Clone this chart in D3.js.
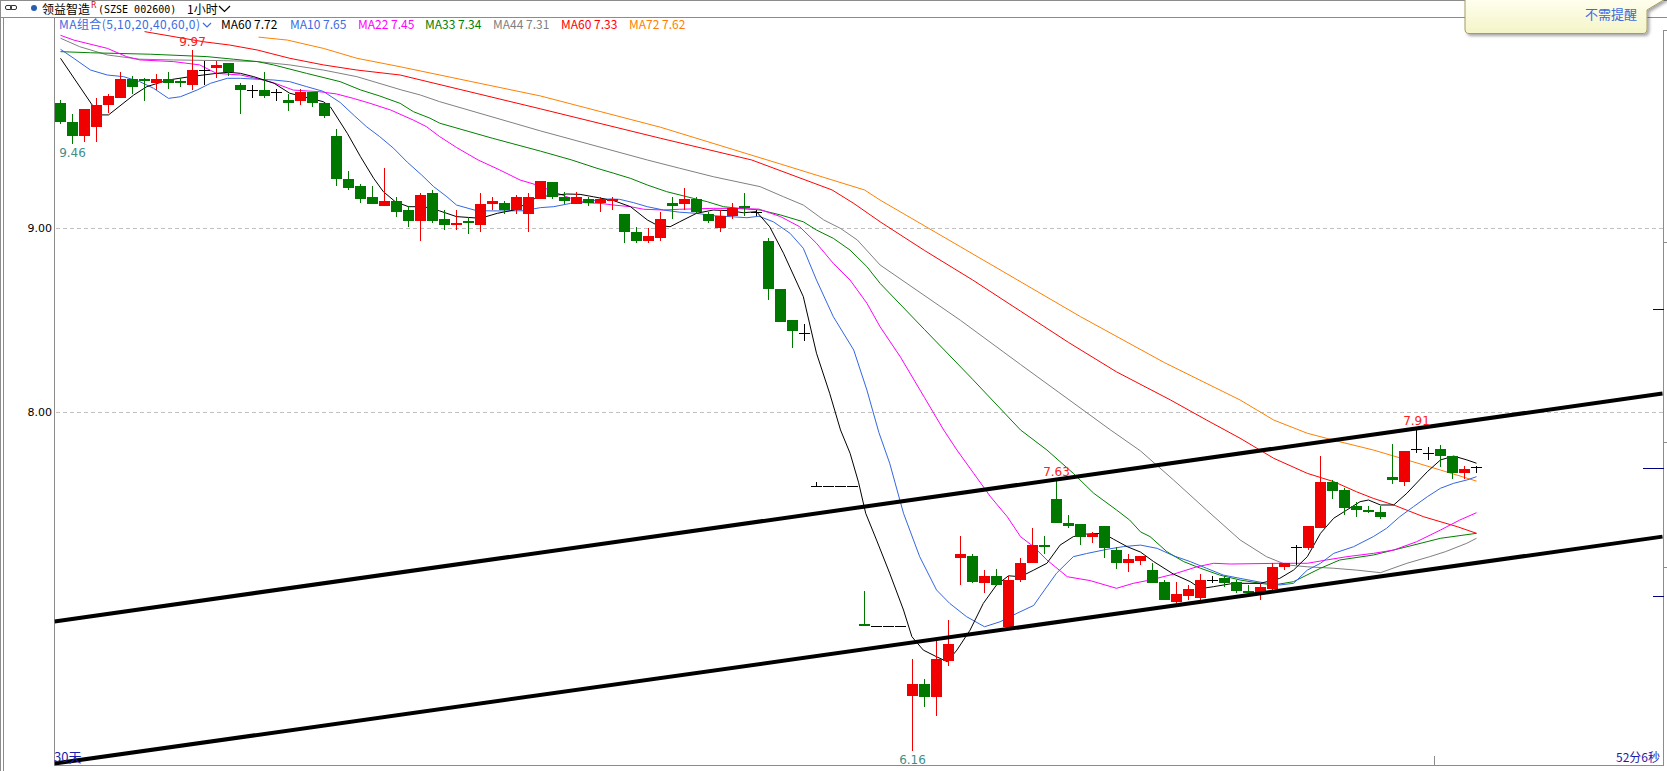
<!DOCTYPE html>
<html><head><meta charset="utf-8">
<script src="https://cdn.jsdelivr.net/npm/d3@7"></script>
<style>
body{margin:0;background:#fff;overflow:hidden}
svg{display:block}
</style></head>
<body><svg id="c" width="1667" height="771"></svg>
<script>
// ---------------- data ----------------
const openP  = [9.68,9.58,9.50,9.55,9.67,9.71,9.81,9.81,9.79,9.81,9.80,9.78,9.86,9.87,9.90,9.78,9.75,9.75,9.74,9.70,
  9.69,9.74,9.68,9.50,9.27,9.23,9.17,9.12,9.15,9.10,9.04,9.19,9.05,9.02,9.04,9.02,9.13,9.14,9.10,9.08,
  9.16,9.25,9.17,9.13,9.16,9.14,9.15,9.08,8.98,8.93,8.95,9.14,9.13,9.16,9.08,9.00,9.07,9.12,9.09,8.93,
  8.67,8.50,8.43,7.60,7.60,7.60,7.60,6.85,6.84,6.84,6.84,6.46,6.52,6.45,6.65,7.21,7.22,7.07,7.11,6.83,
  7.09,7.18,7.28,7.53,7.40,7.39,7.32,7.38,7.25,7.18,7.19,7.14,7.08,6.97,7.00,6.99,7.09,7.10,7.08,7.03,
  7.01,7.04,7.16,7.27,7.26,7.37,7.62,7.58,7.49,7.47,7.46,7.65,7.62,7.80,7.78,7.80,7.76,7.67,7.70];
const highP  = [9.70,9.62,9.65,9.71,9.73,9.85,9.83,9.82,9.84,9.85,9.82,9.97,9.91,9.91,9.90,9.79,9.78,9.85,9.76,9.73,
  9.76,9.74,9.68,9.54,9.31,9.24,9.23,9.33,9.17,9.12,9.19,9.21,9.10,9.10,9.06,9.19,9.17,9.15,9.18,9.19,
  9.26,9.25,9.20,9.20,9.17,9.17,9.17,9.08,9.01,9.00,9.09,9.17,9.22,9.17,9.09,9.10,9.14,9.19,9.10,8.95,
  8.67,8.50,8.48,7.62,7.60,7.60,7.60,7.03,6.84,6.84,6.84,6.66,6.55,6.76,6.87,7.33,7.23,7.14,7.15,7.11,
  7.21,7.37,7.33,7.63,7.44,7.39,7.35,7.38,7.27,7.23,7.22,7.18,7.09,7.08,7.06,7.12,7.11,7.11,7.09,7.06,
  7.07,7.18,7.18,7.28,7.38,7.76,7.63,7.59,7.51,7.49,7.49,7.83,7.79,7.91,7.81,7.82,7.76,7.71,7.71];
const lowP   = [9.57,9.46,9.47,9.47,9.63,9.71,9.73,9.69,9.75,9.76,9.77,9.75,9.78,9.82,9.83,9.62,9.71,9.71,9.69,9.64,
  9.67,9.66,9.60,9.23,9.21,9.14,9.13,9.12,9.06,9.01,8.93,9.03,8.99,8.99,8.97,8.98,9.10,9.08,9.08,8.98,
  9.16,9.16,9.13,9.13,9.12,9.09,9.10,8.92,8.92,8.92,8.93,9.05,9.10,9.08,9.03,8.98,9.05,9.07,9.07,8.61,
  8.49,8.35,8.39,7.60,7.60,7.60,7.60,6.84,6.84,6.84,6.84,6.16,6.40,6.35,6.62,7.06,7.07,7.02,7.06,6.83,
  7.08,7.18,7.23,7.40,7.37,7.28,7.29,7.21,7.15,7.13,7.17,7.07,6.98,6.96,6.98,6.97,7.07,7.05,7.02,7.01,
  6.98,7.03,7.14,7.17,7.25,7.37,7.53,7.44,7.43,7.45,7.42,7.61,7.60,7.78,7.74,7.70,7.64,7.64,7.67];
const closeP = [9.58,9.50,9.65,9.67,9.72,9.81,9.77,9.80,9.81,9.79,9.79,9.86,9.86,9.89,9.85,9.75,9.75,9.72,9.74,9.68,
  9.74,9.68,9.61,9.27,9.22,9.16,9.13,9.15,9.09,9.04,9.18,9.04,9.02,9.03,9.03,9.13,9.15,9.10,9.17,9.17,
  9.26,9.17,9.15,9.17,9.14,9.16,9.16,8.98,8.93,8.96,9.05,9.12,9.16,9.09,9.04,9.07,9.11,9.11,9.09,8.67,
  8.49,8.44,8.43,7.60,7.60,7.60,7.60,6.84,6.84,6.84,6.84,6.52,6.45,6.66,6.74,7.23,7.08,7.11,7.06,7.09,
  7.18,7.28,7.27,7.40,7.38,7.32,7.34,7.26,7.18,7.20,7.22,7.07,6.98,7.01,7.04,7.09,7.09,7.07,7.03,7.02,
  7.05,7.16,7.18,7.27,7.38,7.62,7.57,7.48,7.47,7.46,7.43,7.63,7.79,7.80,7.78,7.76,7.67,7.69,7.70];

// moving-average lines, [candle index, price]
const ma5 = [[0,9.925],[3.2,9.617],[4,9.617],[6.1,9.725],[7.2,9.771],[9,9.807],[10.8,9.825],[13,9.843],[14,9.849],[15,9.843],
  [16.1,9.825],[17.8,9.789],[19.1,9.735],[21.9,9.689],[22.5,9.66],[23.9,9.517],[25,9.39],[26.1,9.272],[26.9,9.2],[27.9,9.145],
  [29,9.118],[30.3,9.118],[31.6,9.095],[33,9.064],[35,9.055],[36.4,9.082],[37.8,9.10],[38.6,9.127],[39.7,9.169],[40.5,9.176],
  [42.2,9.187],[43.3,9.185],[44.4,9.172],[46.1,9.151],[47.5,9.118],[48.9,9.046],[49.7,9.018],[50.8,9.009],[51.6,9.036],[53,9.082],
  [54.4,9.10],[55.8,9.096],[56.9,9.085],[58,9.091],[59.1,9.009],[60.25,8.865],[61.9,8.629],[63,8.321],[64.1,8.103],[65,7.904],
  [65.8,7.777],[66.5,7.62],[67.1,7.451],[68,7.306],[69.1,7.125],[70.25,6.925],[70.95,6.78],[71.9,6.707],[73,6.671],[73.9,6.644],
  [74.7,6.707],[75.8,6.816],[76.9,6.961],[78,7.061],[79,7.111],[80,7.106],[81.1,7.142],[82.2,7.179],[83.3,7.278],[84.4,7.324],
  [85.5,7.338],[86.9,7.342],[87.75,7.31],[88.9,7.269],[90,7.24],[91.1,7.188],[92.75,7.12],[94.15,7.079],[95,7.041],[96.1,7.052],
  [97.75,7.07],[100,7.07],[101.6,7.097],[102.75,7.142],[103.9,7.215],[105,7.342],[106.1,7.424],[107.2,7.469],[108.3,7.514],[109,7.523],
  [110,7.496],[111.1,7.496],[112.2,7.56],[113.9,7.677],[115,7.741],[116.1,7.762],[117.2,7.741],[118,7.723]];
const ma10 = [[0,9.974],[1.1,9.925],[2.5,9.861],[3.9,9.834],[5.25,9.825],[6.6,9.798],[7.75,9.762],[9,9.707],[10,9.716],[11.4,9.753],
  [12.5,9.789],[13.9,9.816],[15,9.816],[16.4,9.811],[17.75,9.807],[19.1,9.798],[20.5,9.771],[21.9,9.745],[23.3,9.685],[24.5,9.612],
  [25.5,9.553],[26.6,9.499],[27.75,9.436],[28.9,9.36],[30.1,9.29],[31.1,9.227],[32.2,9.172],[33,9.127],[34.7,9.096],[36.4,9.095],
  [38.6,9.096],[40,9.113],[41.1,9.118],[42.5,9.136],[43.6,9.145],[44.7,9.154],[45.8,9.16],[46.6,9.158],[47.75,9.14],[48.9,9.118],
  [50.25,9.10],[51.6,9.088],[53,9.082],[54.4,9.069],[55.8,9.064],[57.2,9.058],[58.2,9.066],[59.4,9.036],[60.8,8.973],[61.9,8.892],
  [63,8.719],[64.4,8.52],[66.1,8.339],[67.2,8.121],[68.2,7.89],[69.1,7.723],[70.25,7.451],[71.6,7.215],[73,7.034],[74.1,6.961],
  [75.5,6.889],[77,6.834],[78.3,6.861],[79.7,6.907],[81.1,6.95],[81.6,6.997],[83,7.125],[84.4,7.215],[85.5,7.232],[87.2,7.255],
  [88.6,7.27],[90,7.278],[91.4,7.26],[92.75,7.22],[94.15,7.188],[95.5,7.152],[96.9,7.115],[98.3,7.097],[100.5,7.07],[101.6,7.061],
  [102.75,7.07],[103.9,7.142],[105,7.179],[106.1,7.233],[107.75,7.269],[109.4,7.324],[110.5,7.369],[111.6,7.432],[112.75,7.487],[113.9,7.541],
  [115,7.587],[116.1,7.614],[117.2,7.632],[118,7.65]];
const ma22 = [[0,10.05],[1.1,10.024],[3.9,9.979],[5.5,9.934],[6.6,9.916],[9.4,9.907],[11.6,9.889],[13,9.843],[15,9.834],[16.6,9.811],
  [17.75,9.792],[19.4,9.752],[21.6,9.743],[23,9.731],[24.4,9.707],[25.8,9.68],[27.5,9.644],[29.4,9.589],[30.5,9.553],[31.6,9.499],
  [33,9.44],[34.8,9.372],[36.6,9.318],[38.3,9.263],[39.7,9.236],[41.1,9.2],[42.5,9.164],[43.6,9.14],[45,9.136],[46.1,9.127],
  [47.5,9.118],[48.6,9.104],[50.25,9.1],[51.6,9.104],[54.4,9.109],[55.8,9.109],[58.2,9.105],[60,9.064],[61.6,9.009],[63,8.919],
  [64.4,8.81],[65.8,8.719],[67.2,8.593],[68.3,8.465],[70,8.30],[72,8.08],[73.6,7.904],[74.7,7.795],[76.1,7.668],[77.5,7.541],
  [78.9,7.432],[80,7.324],[81.1,7.269],[82.2,7.197],[83.9,7.106],[85.8,7.085],[88,7.043],[89.4,7.07],[90.8,7.088],[92.75,7.12],
  [94.7,7.16],[96.1,7.179],[97.5,7.175],[101.6,7.179],[103.9,7.179],[105.5,7.197],[107.2,7.215],[109.4,7.233],[111.1,7.251],[113,7.296],
  [115,7.36],[116.6,7.414],[118,7.454]];
const ma33 = [[0,9.961],[2.5,9.955],[7.5,9.947],[12.2,9.934],[14.4,9.92],[16.4,9.907],[17.75,9.889],[20.5,9.843],[23.3,9.798],[25,9.753],
  [26.6,9.72],[28.3,9.68],[29.4,9.635],[30.8,9.599],[31.6,9.572],[36,9.49],[40,9.42],[42.6,9.372],[44.7,9.327],[46.1,9.3],
  [47.5,9.272],[48.9,9.236],[50.5,9.2],[52.2,9.172],[53.9,9.145],[55.25,9.118],[56.6,9.109],[58.3,9.1],[60,9.073],[61.9,9.036],
  [63,8.991],[64.4,8.946],[65.8,8.882],[67.2,8.792],[68.3,8.701],[72,8.45],[76,8.18],[80,7.904],[82.2,7.795],[84.4,7.668],
  [86.1,7.56],[88,7.469],[89.1,7.414],[90,7.35],[90.8,7.324],[92.2,7.242],[93.6,7.188],[95,7.152],[96.6,7.115],[98.3,7.088],
  [100,7.07],[101.1,7.061],[102.75,7.079],[105,7.152],[106.6,7.197],[109.4,7.224],[112.2,7.269],[115,7.315],[118,7.342]];
const ma44 = [[0,10.034],[1.6,9.988],[3.9,9.943],[6.6,9.92],[9.4,9.916],[13.6,9.912],[16.4,9.907],[19.1,9.889],[21.9,9.861],[24.7,9.825],
  [28.4,9.753],[30,9.725],[31.6,9.689],[40,9.53],[48.9,9.372],[51.6,9.327],[54.4,9.281],[58.3,9.227],[60.25,9.172],[61.9,9.127],
  [63.6,9.046],[65,9.0],[66.4,8.937],[68.3,8.801],[75,8.5],[80,8.26],[87.5,7.904],[90,7.79],[92.75,7.632],[95.5,7.469],
  [98.3,7.306],[100.5,7.215],[102.2,7.17],[103.9,7.16],[106.1,7.152],[108,7.142],[110,7.128],[112.2,7.179],[114.1,7.215],[115.4,7.242],
  [117.2,7.288],[118,7.315]];
const ma60 = [[7,10.07],[11.9,10.015],[14.1,9.997],[16.4,9.97],[19.1,9.925],[21.9,9.889],[24.7,9.861],[28.3,9.834],[40,9.65],[50,9.49],
  [57.6,9.372],[64.3,9.209],[66.1,9.136],[68.3,9.036],[72,8.88],[76,8.72],[80,8.55],[84,8.38],[88,8.22],[92.5,8.067],
  [95.5,7.958],[98.3,7.859],[101.1,7.75],[103.9,7.668],[106.1,7.623],[108,7.568],[109.4,7.532],[111.1,7.496],[113.6,7.432],[116.4,7.378],[118,7.342]];
const ma72 = [[16.5,10.04],[18.9,10.024],[21.9,9.979],[24.7,9.925],[28.3,9.879],[40,9.72],[50,9.55],[60,9.35],[67,9.209],[68.3,9.154],
  [75,8.9],[85,8.52],[92,8.27],[98.3,8.067],[101.1,7.958],[103.9,7.886],[106.6,7.84],[109.4,7.795],[112.2,7.741],[115,7.686],[118,7.626]];

// drawn channel lines: [candle index, price] at the two plot edges
const upperChannel = [[-0.5,6.863],[133.5,8.102]];
const lowerChannel = [[-0.5,6.090],[133.5,7.324]];

const priceTicks = [8, 9];
const legendItems = [
  {t:"MA组合(5,10,20,40,60,0)", c:"#3d6be0", x:59, w:141},
  {t:"MA60 7.72", c:"#000000", x:221},
  {t:"MA10 7.65", c:"#3d6be0", x:290},
  {t:"MA22 7.45", c:"#ff00ff", x:358},
  {t:"MA33 7.34", c:"#008000", x:425},
  {t:"MA44 7.31", c:"#808080", x:493},
  {t:"MA60 7.33", c:"#ff0000", x:561},
  {t:"MA72 7.62", c:"#ff8000", x:629}
];
const maSeries = [
  {d:ma72,c:"#ff8000"},{d:ma60,c:"#ff0000"},{d:ma44,c:"#808080"},{d:ma33,c:"#008000"},
  {d:ma22,c:"#ff00ff"},{d:ma10,c:"#3366e0"},{d:ma5,c:"#000000"}
];
const highMarks = [{i:11,t:"9.97"},{i:83,t:"7.63"},{i:113,t:"7.91"}];
const lowMarks  = [{i:1,t:"9.46"},{i:71,t:"6.16"}];

// ---------------- drawing ----------------
const svg = d3.select("#c");
const P = {left:54.5, right:1663.5, top:17.5, bottom:765.5};
const x = d3.scaleLinear().domain([0,118]).range([60.5,1476.5]);
const y = d3.scaleLinear().domain([6.16,9.97]).range([750.7,50]);
const px = v => Math.round(v)+0.5;

const defs = svg.append("defs");
defs.append("clipPath").attr("id","plotclip").append("rect")
  .attr("x",P.left).attr("y",P.top).attr("width",P.right-P.left).attr("height",P.bottom-P.top);
const grad = defs.append("linearGradient").attr("id","tipg").attr("x1",0).attr("y1",0).attr("x2",0).attr("y2",1);
grad.append("stop").attr("offset","0%").attr("stop-color","#fffff0");
grad.append("stop").attr("offset","100%").attr("stop-color","#f4f4c8");
const sh = defs.append("filter").attr("id","shadow").attr("x","-10%").attr("y","-30%").attr("width","130%").attr("height","180%");
sh.append("feDropShadow").attr("dx",2).attr("dy",2).attr("stdDeviation",1.5).attr("flood-color","#000").attr("flood-opacity",0.35);

// frame lines
const frame = svg.append("g").attr("stroke","#8c8c8c").attr("fill","none").attr("shape-rendering","crispEdges");
frame.append("line").attr("x1",0).attr("x2",1667).attr("y1",0.5).attr("y2",0.5);
frame.append("line").attr("x1",0).attr("x2",1667).attr("y1",P.top).attr("y2",P.top);
frame.append("line").attr("x1",0.5).attr("x2",0.5).attr("y1",0).attr("y2",771);
frame.append("line").attr("x1",3.5).attr("x2",3.5).attr("y1",17).attr("y2",771);
frame.append("line").attr("x1",P.left).attr("x2",P.left).attr("y1",P.top).attr("y2",P.bottom);
frame.append("line").attr("x1",P.right).attr("x2",P.right).attr("y1",30).attr("y2",P.bottom);
frame.append("line").attr("x1",P.left).attr("x2",P.right).attr("y1",P.bottom).attr("y2",P.bottom);
frame.append("line").attr("x1",1434.5).attr("x2",1434.5).attr("y1",756).attr("y2",P.bottom);
[242,442,567].forEach(v=>frame.append("line").attr("x1",P.right).attr("x2",1667).attr("y1",v+0.5).attr("y2",v+0.5));
frame.append("line").attr("x1",P.right).attr("x2",1667).attr("y1",30.5).attr("y2",30.5);

// y axis (labels + dashed grid)
const yAxis = d3.axisLeft(y).tickValues(priceTicks).tickFormat(d3.format(".2f")).tickSize(0).tickPadding(2);
const ga = svg.append("g").attr("transform",`translate(${P.left-0.5},0)`).call(yAxis);
ga.select(".domain").remove();
ga.selectAll("text").attr("font-family","'DejaVu Sans',sans-serif").attr("font-size",11).attr("fill","#000");
svg.append("g").selectAll("line").data(priceTicks).join("line")
  .attr("x1",P.left+1).attr("x2",P.right).attr("y1",d=>px(y(d))).attr("y2",d=>px(y(d)))
  .attr("stroke","#c0c0c0").attr("stroke-dasharray","4,3").attr("shape-rendering","crispEdges");

const plot = svg.append("g").attr("clip-path","url(#plotclip)");

// moving averages
const line = d3.line().x(d=>x(d[0])).y(d=>y(d[1]));
plot.append("g").selectAll("path").data(maSeries).join("path")
  .attr("d",d=>line(d.d)).attr("fill","none").attr("stroke",d=>d.c).attr("stroke-width",1);

// candles
const idx = d3.range(openP.length);
const cg = plot.append("g").attr("shape-rendering","crispEdges");
idx.forEach(i=>{
  const o=openP[i],h=highP[i],l=lowP[i],c=closeP[i];
  const cx = x(i);
  if (o===c){
    cg.append("line").attr("x1",cx).attr("x2",cx).attr("y1",y(h)).attr("y2",y(l)).attr("stroke","#000");
    cg.append("line").attr("x1",cx-5.5).attr("x2",cx+5.5).attr("y1",px(y(o))).attr("y2",px(y(o))).attr("stroke","#000");
  } else {
    const col = c>o ? "#f00000" : "#007800";
    cg.append("line").attr("x1",cx).attr("x2",cx).attr("y1",y(h)).attr("y2",y(l)).attr("stroke",col);
    const t=Math.round(y(Math.max(o,c))), b=Math.round(y(Math.min(o,c)));
    cg.append("rect").attr("x",cx-5.5).attr("y",t).attr("width",11).attr("height",Math.max(1,b-t)).attr("fill",col);
  }
});

// channel lines
plot.append("g").selectAll("path").data([upperChannel,lowerChannel]).join("path")
  .attr("d",d=>line(d)).attr("fill","none").attr("stroke","#000").attr("stroke-width",4);

// high / low marks
svg.append("g").selectAll("text").data(highMarks).join("text")
  .attr("x",d=>x(d.i)).attr("y",d=>y(highP[d.i])-4).attr("text-anchor","middle")
  .attr("font-family","'DejaVu Sans',sans-serif").attr("font-size",12).attr("fill","#ff2020").text(d=>d.t);
svg.append("g").selectAll("text").data(lowMarks).join("text")
  .attr("x",d=>x(d.i)).attr("y",d=>y(lowP[d.i])+13).attr("text-anchor","middle")
  .attr("font-family","'DejaVu Sans',sans-serif").attr("font-size",12).attr("fill","#3f8f88").text(d=>d.t);

// navy markers on right side
[[1653,309],[1643,468],[1653,596]].forEach(([a,b])=>svg.append("line").attr("x1",a).attr("x2",P.right)
  .attr("y1",b+0.5).attr("y2",b+0.5).attr("stroke","#000080").attr("shape-rendering","crispEdges"));

// legend
const lg = svg.append("g").attr("font-family","'Noto Sans CJK SC','Noto Sans',sans-serif").attr("font-size",12);
lg.selectAll("text").data(legendItems).join("text").attr("x",d=>d.x).attr("y",29).attr("fill",d=>d.c)
  .each(function(d){ if(d.w) d3.select(this).attr("textLength",d.w).attr("lengthAdjust","spacing"); })
  .text(d=>d.t);
svg.append("path").attr("d","M203,23 L207,27 L211,23").attr("fill","none").attr("stroke","#3d6be0").attr("stroke-width",1.2);

// header
const hd = svg.append("g");
hd.append("rect").attr("x",5.5).attr("y",5.5).attr("width",6).attr("height",4).attr("rx",1.5).attr("fill","none").attr("stroke","#333");
hd.append("rect").attr("x",10.5).attr("y",5.5).attr("width",6).attr("height",4).attr("rx",1.5).attr("fill","none").attr("stroke","#333");
hd.append("circle").attr("cx",34).attr("cy",8).attr("r",3).attr("fill","#2a5db0");
hd.append("text").attr("x",42).attr("y",13.5).attr("font-family","'Noto Sans CJK SC',sans-serif").attr("font-size",12).attr("fill","#000").text("领益智造");
hd.append("text").attr("x",91).attr("y",8).attr("font-family","'DejaVu Sans',sans-serif").attr("font-size",8).attr("fill","#e00000").text("R");
hd.append("text").attr("x",98).attr("y",13).attr("font-family","'DejaVu Sans Mono',monospace").attr("font-size",10).attr("fill","#000").text("(SZSE 002600)");
hd.append("text").attr("x",187).attr("y",13.5).attr("font-family","'Noto Sans CJK SC',sans-serif").attr("font-size",12).attr("fill","#000").text("1小时");
hd.append("path").attr("d","M219,6 L224.5,11.5 L230,6").attr("fill","none").attr("stroke","#000").attr("stroke-width",1.2);

// bottom texts
svg.append("text").attr("x",54).attr("y",762).attr("font-family","'Noto Sans CJK SC',sans-serif").attr("font-size",13).attr("fill","#1c1ca8").text("30天");
svg.append("text").attr("x",1660).attr("y",762).attr("text-anchor","end").attr("font-family","'Noto Sans CJK SC',sans-serif").attr("font-size",12).attr("fill","#1c1ca8").text("52分6秒");

// reminder tooltip
const tip = svg.append("g");
tip.append("path").attr("d","M1465,-2 L1667,-2 L1647,10 L1647,29 Q1647,33.5 1643,33.5 L1469,33.5 Q1465,33.5 1465,29 Z")
  .attr("fill","url(#tipg)").attr("stroke","#a49c66").attr("filter","url(#shadow)");
tip.append("text").attr("x",1585).attr("y",19).attr("font-family","'Noto Sans CJK SC',sans-serif").attr("font-size",13).attr("fill","#3d6be0").text("不需提醒");
</script>
</body></html>
